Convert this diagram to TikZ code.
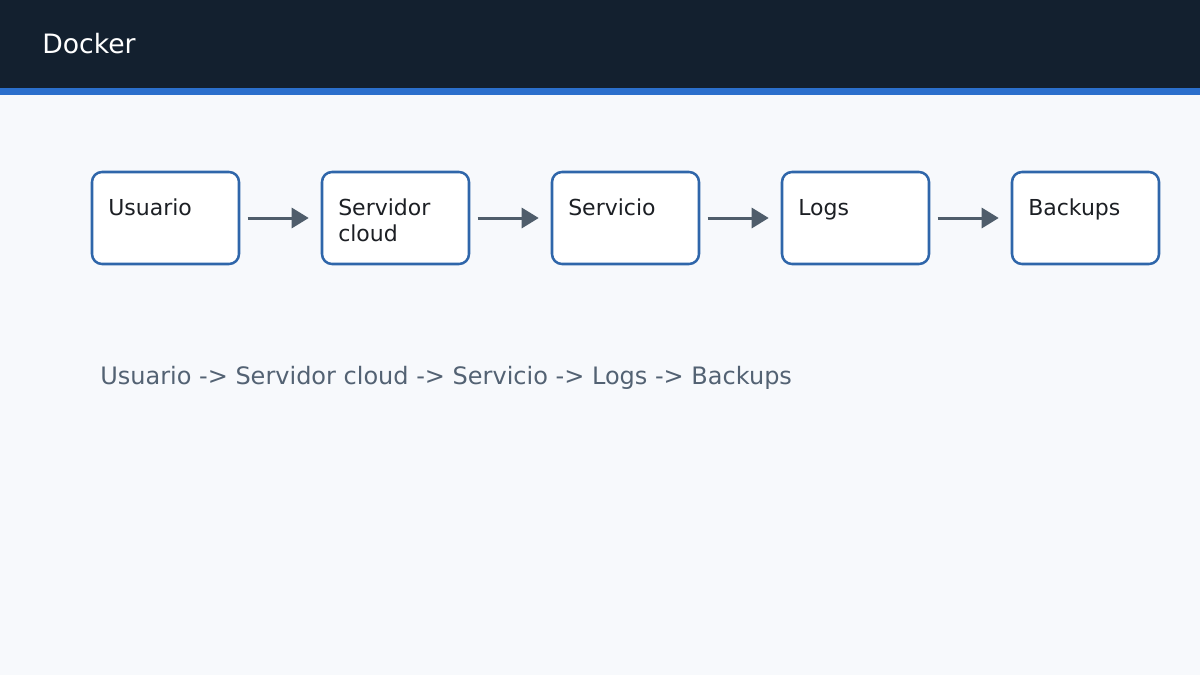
\documentclass[tikz,border=0pt]{standalone}
\usepackage{fontspec}
\setmainfont{DejaVu Sans}
\usetikzlibrary{arrows.meta}

\definecolor{headbg}{HTML}{13202F}
\definecolor{headline}{HTML}{2B6FCC}
\definecolor{pagebg}{HTML}{F7F9FC}
\definecolor{boxline}{HTML}{2F66AA}
\definecolor{arrowgray}{HTML}{4F5D6B}
\definecolor{notegray}{HTML}{536273}
\definecolor{textdark}{HTML}{1C1F24}

\begin{document}
\begin{tikzpicture}[x=0.75pt,y=-0.75pt,line join=round,
  box/.style={draw=boxline,fill=white,line width=1.9pt,rounded corners=7.5pt,
    minimum width=110.25pt,minimum height=69pt,inner sep=0pt},
  boxtext/.style={anchor=base west,inner sep=0pt,align=left,text=textdark,
    font=\fontsize{16.5}{19.5}\selectfont},
  flow/.style={draw=arrowgray,line width=2.25pt,
    -{Triangle[length=12.75pt,width=15pt]},shorten <=5.5pt,shorten >=9pt}]

\useasboundingbox (0,0) rectangle (1200,675);
\fill[pagebg] (0,0) rectangle (1200,675);
\fill[headbg] (0,0) rectangle (1200,88);
\fill[headline] (0,88) rectangle (1200,95);

\node[anchor=base west,inner sep=0pt,text=white,font=\fontsize{20}{24}\selectfont] (title) at (42,53) {Docker};

\node[box] (usuario)  at (165.5,218) {};
\node[box] (servidor) at (395.5,218) {};
\node[box] (servicio) at (625.5,218) {};
\node[box] (logs)     at (855.5,218) {};
\node[box] (backups)  at (1085.5,218) {};

\node[boxtext] (tusuario)  at (108,215) {Usuario};
\node[boxtext] (tservidor) at (338,241) {Servidor\\cloud}; % base = ultima linea
\node[boxtext] (tservicio) at (568,215) {Servicio};
\node[boxtext] (tlogs)     at (798,215) {Logs};
\node[boxtext] (tbackups)  at (1028,215) {Backups};

\draw[flow] (usuario)  -- (servidor);
\draw[flow] (servidor) -- (servicio);
\draw[flow] (servicio) -- (logs);
\draw[flow] (logs)     -- (backups);

\node[anchor=base west,inner sep=0pt,text=notegray,font=\fontsize{18}{21}\selectfont] (resumen) at (100,384)
  {Usuario -> Servidor cloud -> Servicio -> Logs -> Backups};
\end{tikzpicture}
\end{document}
